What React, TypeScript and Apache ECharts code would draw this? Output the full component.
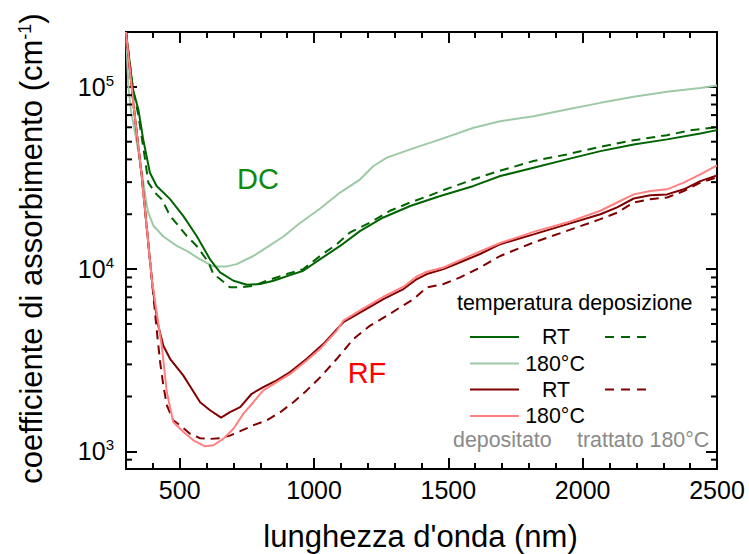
import React, { useEffect, useRef } from 'react';
import * as echarts from 'echarts';

const FONT = "'Liberation Sans', Arial, Helvetica, sans-serif";

// DC – RT – as deposited (solid dark green)
const dcRtDepNm = [300, 326, 346, 364, 389, 414, 464, 513, 563, 613, 650, 700, 750, 799, 849, 911, 960, 1023, 1097, 1172, 1258, 1358, 1470, 1594, 1693, 1817, 1941, 2066, 2190, 2314, 2438, 2500];
const dcRtDepVal = [200000, 96700, 75100, 51500, 33800, 28600, 24200, 19600, 15200, 11300, 9590, 8630, 8200, 8280, 8630, 9270, 9790, 11340, 13400, 16200, 19200, 22200, 25200, 28600, 32400, 36000, 40000, 44400, 48300, 51500, 55500, 57900];

// DC – 180°C – as deposited (solid light green)
const dc180DepNm = [300, 309, 318, 345, 363, 377, 383, 402, 439, 489, 526, 576, 625, 675, 712, 774, 824, 886, 948, 1023, 1097, 1172, 1221, 1271, 1358, 1470, 1594, 1693, 1817, 1941, 2066, 2190, 2314, 2438, 2500];
const dc180DepVal = [200000, 100000, 75000, 45000, 31000, 22500, 20400, 17300, 15100, 13400, 12600, 11300, 10350, 10350, 10650, 11800, 13150, 15100, 17900, 21500, 26300, 31100, 36800, 40900, 45400, 51500, 59600, 64800, 69000, 75100, 81700, 88200, 93900, 98700, 101700];

// DC – RT – annealed 180°C (dashed dark green)
const dcRtAnnNm = [300, 326, 346, 371, 383, 414, 433, 464, 495, 526, 563, 607, 625, 650, 687, 725, 774, 824, 899, 960, 1023, 1085, 1134, 1209, 1283, 1358, 1432, 1507, 1594, 1668, 1817, 1941, 2066, 2190, 2314, 2401, 2500];
const dcRtAnnVal = [200000, 97000, 70000, 40000, 29800, 25700, 24200, 19600, 17300, 15200, 13400, 10900, 9390, 8820, 7940, 7940, 8100, 8630, 9390, 10000, 11830, 13700, 15900, 18000, 20900, 23200, 25400, 28000, 31100, 33800, 39200, 42600, 46900, 51000, 54300, 57700, 60100];

// RF – RT – as deposited (solid dark red)
const rfRtDepNm = [300, 330, 358, 396, 408, 420, 439, 464, 513, 545, 576, 613, 654, 687, 725, 768, 811, 861, 911, 973, 1035, 1109, 1184, 1258, 1333, 1383, 1420, 1482, 1544, 1618, 1693, 1817, 1941, 2066, 2128, 2190, 2252, 2314, 2376, 2438, 2500];
const rfRtDepVal = [200000, 75000, 33100, 8820, 6300, 4900, 3800, 3220, 2610, 2200, 1860, 1680, 1530, 1640, 1750, 2070, 2250, 2450, 2720, 3220, 3890, 5110, 5910, 6850, 7770, 8820, 9390, 10000, 10900, 12100, 13700, 15500, 17600, 20000, 21800, 24400, 25400, 25700, 27400, 30400, 32700];

// RF – 180°C – as deposited (solid light red)
const rf180DepNm = [300, 330, 358, 396, 414, 433, 452, 476, 513, 551, 594, 625, 662, 700, 737, 774, 811, 861, 911, 973, 1023, 1085, 1109, 1184, 1258, 1333, 1383, 1420, 1482, 1544, 1618, 1693, 1817, 1941, 2066, 2128, 2190, 2252, 2314, 2376, 2438, 2500];
const rf180DepVal = [200000, 75000, 33100, 8820, 5790, 3800, 2110, 1450, 1280, 1150, 1065, 1080, 1170, 1330, 1610, 1860, 2160, 2400, 2660, 3150, 3650, 4600, 5210, 6090, 7050, 8000, 9120, 9670, 10200, 11200, 12500, 13900, 16000, 18000, 20900, 23200, 25700, 26800, 27400, 29800, 33100, 37100];

// RF – RT – annealed 180°C (dashed dark red)
const rfRtAnnNm = [300, 330, 358, 396, 402, 414, 427, 439, 452, 476, 501, 538, 576, 613, 650, 687, 725, 774, 824, 874, 923, 973, 1023, 1085, 1147, 1209, 1271, 1321, 1370, 1420, 1482, 1544, 1618, 1693, 1817, 1941, 2066, 2128, 2190, 2252, 2314, 2376, 2438, 2500];
const rfRtAnnVal = [200000, 75000, 33100, 8820, 7140, 4690, 3090, 2300, 1790, 1480, 1390, 1250, 1180, 1170, 1180, 1220, 1290, 1390, 1480, 1640, 1860, 2160, 2550, 3220, 4140, 4900, 5550, 6170, 6850, 7940, 8280, 9010, 10200, 11800, 14000, 16200, 18800, 20400, 23200, 24200, 24700, 26800, 29800, 31900];

const yMinorTicks = [900, 2000, 3000, 4000, 5000, 6000, 7000, 8000, 9000, 20000, 30000, 40000, 50000, 60000, 70000, 80000, 90000];

const C_DARK_GREEN = '#006400';
const C_LIGHT_GREEN = '#9dcaa5';
const C_DARK_RED = '#800000';
const C_LIGHT_RED = '#ff8080';
const C_GRAY = '#8a8a8a';

const zip = (a: number[], b: number[]) => a.map((x, i) => [x, b[i]]);

export default function App() {
  const ref = useRef<HTMLDivElement>(null);
  useEffect(() => {
    if (!ref.current) return;
    const chart = echarts.init(ref.current, undefined, { renderer: 'svg' });
    const gridBase = { top: 32, bottom: 85, right: 32 };
    const plotW = 749 - 126 - 32;
    const majorLeft = 126 + (500 - 300) * plotW / 2200;
    const TICK_W = 2;
    const MINOR_LEN = 6;
    const MAJOR_LEN = 11;

    const line = (data: number[][], color: string, dashed: boolean, z: number) => ({
      type: 'line',
      xAxisIndex: 0,
      yAxisIndex: 0,
      data,
      showSymbol: false,
      symbol: 'none',
      z,
      lineStyle: { color, width: 2, type: dashed ? [9, 6] : 'solid' },
      emphasis: { disabled: true },
    });

    const minorX = (position: string) => ({
      type: 'value', gridIndex: 0, position, min: 300, max: 2500, interval: 100,
      axisLine: { show: true, onZero: false, lineStyle: { color: '#000', width: 2 } },
      axisTick: { show: true, inside: true, length: MINOR_LEN, lineStyle: { color: '#000', width: TICK_W } },
      axisLabel: { show: false },
      splitLine: { show: false },
    });
    const majorX = (position: string, labels: boolean) => ({
      type: 'value', gridIndex: 1, position, min: 500, max: 2500, interval: 500,
      axisLine: { show: false, onZero: false },
      axisTick: { show: true, inside: true, length: MAJOR_LEN, lineStyle: { color: '#000', width: TICK_W } },
      axisLabel: {
        show: labels, fontSize: 25, fontFamily: FONT, color: '#000', margin: 8,
        formatter: (v: number) => String(v),
      },
      splitLine: { show: false },
    });
    const logY = (position: string, labels: boolean) => ({
      type: 'log', logBase: 10, gridIndex: 0, position, min: 800, max: 200000,
      axisLine: { show: true, onZero: false, lineStyle: { color: '#000', width: 2 } },
      axisTick: { show: true, inside: true, length: MAJOR_LEN, lineStyle: { color: '#000', width: TICK_W } },
      axisLabel: {
        show: labels,
        margin: 12,
        showMinLabel: false,
        showMaxLabel: false,
        formatter: (v: number) => {
          const e = Math.log10(v);
          const r = Math.round(e);
          if (Math.abs(e - r) > 1e-6) return '';
          return `{b|10}{s|${r}}`;
        },
        rich: {
          b: { fontSize: 25, fontFamily: FONT, color: '#000', lineHeight: 28 },
          s: { fontSize: 15, fontFamily: FONT, color: '#000', verticalAlign: 'top', lineHeight: 15 },
        },
      },
      splitLine: { show: false },
    });

    const legendText = (text: string, x: number, y: number, color = '#000', align = 'left') => ({
      type: 'text', x, y, silent: true,
      style: { text, fill: color, fontSize: 21.4, fontFamily: FONT, align, verticalAlign: 'middle' },
    });
    const legendLine = (x1: number, x2: number, y: number, color: string, dashed: boolean) => ({
      type: 'line', silent: true,
      shape: { x1, y1: y, x2, y2: y },
      style: { stroke: color, lineWidth: 2, lineDash: dashed ? [9, 7] : null },
    });

    chart.setOption({
      animation: false,
      backgroundColor: '#fff',
      grid: [
        { left: 126, ...gridBase },
        { left: majorLeft, ...gridBase },
      ],
      xAxis: [minorX('bottom'), minorX('top'), majorX('bottom', true), majorX('top', false)],
      yAxis: [logY('left', true), logY('right', false), { type: 'value', gridIndex: 1, show: false, min: 0, max: 1 }],
      series: [
        line(zip(dc180DepNm, dc180DepVal), C_LIGHT_GREEN, false, 2),
        line(zip(dcRtAnnNm, dcRtAnnVal), C_DARK_GREEN, true, 3),
        line(zip(dcRtDepNm, dcRtDepVal), C_DARK_GREEN, false, 4),
        line(zip(rfRtAnnNm, rfRtAnnVal), C_DARK_RED, true, 5),
        line(zip(rfRtDepNm, rfRtDepVal), C_DARK_RED, false, 6),
        line(zip(rf180DepNm, rf180DepVal), C_LIGHT_RED, false, 7),
        {
          type: 'custom',
          xAxisIndex: 0,
          yAxisIndex: 0,
          silent: true,
          clip: false,
          z: 10,
          data: yMinorTicks.map((v) => [300, v]),
          renderItem: (_p: any, api: any) => {
            const v = api.value(1);
            const l = api.coord([300, v]);
            const r = api.coord([2500, v]);
            const st = { stroke: '#000', lineWidth: TICK_W };
            return {
              type: 'group',
              children: [
                { type: 'line', shape: { x1: l[0], y1: l[1], x2: l[0] + MINOR_LEN, y2: l[1] }, style: st },
                { type: 'line', shape: { x1: r[0] - MINOR_LEN, y1: r[1], x2: r[0], y2: r[1] }, style: st },
              ],
            };
          },
        },
      ],
      graphic: [
        {
          type: 'text', x: 31, y: 248.5, rotation: Math.PI / 2, silent: true,
          style: {
            text: 'coefficiente di assorbimento (cm{s|-1})',
            fill: '#000', fontSize: 31, fontFamily: FONT, align: 'center', verticalAlign: 'middle',
            rich: { s: { fontSize: 18, fontFamily: FONT, fill: '#000', verticalAlign: 'top', lineHeight: 18 } },
          },
        },
        {
          type: 'text', x: 420.5, y: 536, silent: true,
          style: { text: "lunghezza d'onda (nm)", fill: '#000', fontSize: 31, fontFamily: FONT, align: 'center', verticalAlign: 'middle' },
        },
        { type: 'text', x: 258, y: 179, silent: true, style: { text: 'DC', fill: '#0f8a0f', fontSize: 29, fontFamily: FONT, align: 'center', verticalAlign: 'middle' } },
        { type: 'text', x: 367, y: 373, silent: true, style: { text: 'RF', fill: '#ff0000', fontSize: 29, fontFamily: FONT, align: 'center', verticalAlign: 'middle' } },
        legendText('temperatura deposizione', 457, 303),
        legendLine(470, 519, 337, C_DARK_GREEN, false),
        legendText('RT', 556, 337, '#000', 'center'),
        legendLine(605, 653, 337, C_DARK_GREEN, true),
        legendLine(470, 519, 363.5, C_LIGHT_GREEN, false),
        legendText('180°C', 555, 364, '#000', 'center'),
        legendLine(470, 519, 389.5, C_DARK_RED, false),
        legendText('RT', 556, 390, '#000', 'center'),
        legendLine(605, 653, 389.5, C_DARK_RED, true),
        legendLine(470, 519, 416, C_LIGHT_RED, false),
        legendText('180°C', 555, 416, '#000', 'center'),
        legendText('depositato', 453, 440, C_GRAY),
        legendText('trattato 180°C', 577, 440, C_GRAY),
      ],
    });
    return () => chart.dispose();
  }, []);
  return <div ref={ref} style={{ position: 'fixed', left: 0, top: 0, width: 749, height: 554, background: '#fff' }} />;
}
